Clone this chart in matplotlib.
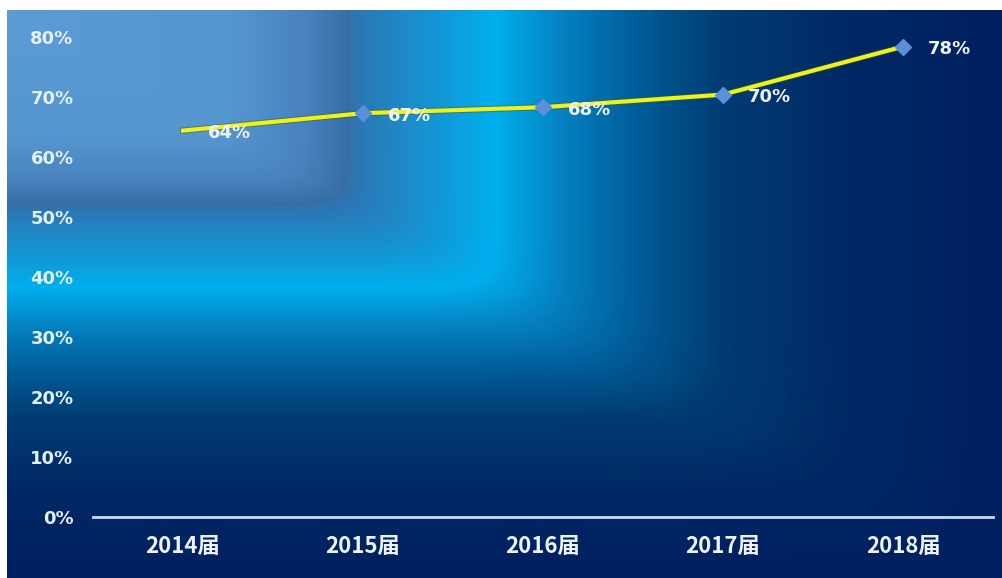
import matplotlib
matplotlib.use("Agg")
import matplotlib.pyplot as plt
import matplotlib.patheffects as pe
from matplotlib.colors import LinearSegmentedColormap
import numpy as np

plt.rcParams["font.family"] = ["DejaVu Sans", "Noto Sans CJK SC"]

# data
categories = ["2014届", "2015届", "2016届", "2017届", "2018届"]
rates = [0.644, 0.673, 0.683, 0.704, 0.784]
yticks = [0, 0.1, 0.2, 0.3, 0.4, 0.5, 0.6, 0.7, 0.8]

W, H = 1003, 578
fig = plt.figure(figsize=(W / 100, H / 100), dpi=100, facecolor="white")

# background: rectangular gradient from the top-left corner
bg_stops = [
    (0.00, (92, 156, 214)),
    (0.22, (86, 150, 208)),
    (0.30, (72, 130, 190)),
    (0.34, (55, 110, 166)),
    (0.355, (42, 120, 182)),
    (0.40, (30, 138, 200)),
    (0.49, (0, 175, 238)),
    (0.56, (5, 128, 192)),
    (0.64, (0, 90, 150)),
    (0.72, (0, 60, 114)),
    (0.85, (0, 40, 100)),
    (1.00, (0, 32, 96)),
]
cmap = LinearSegmentedColormap.from_list(
    "bg", [(p, tuple(c / 255 for c in rgb)) for p, rgb in bg_stops])
bw, bh = 996, 568
gx = np.linspace(0, 1, bw)[None, :]
gy = np.linspace(0, 1, bh)[:, None]
p = 18
t = np.clip((gx ** p + gy ** p) ** (1 / p), 0, 1)
bg = fig.add_axes([7 / W, 0, bw / W, bh / H])
bg.imshow(cmap(t), aspect="auto", interpolation="bilinear")
bg.axis("off")

# main chart
ax = fig.add_axes([93 / W, (H - 517) / H, 900 / W, 480 / H])
ax.patch.set_alpha(0)
x = np.arange(len(categories))

ax.plot(x, rates, color="#eef21c", lw=3, zorder=3,
        path_effects=[pe.Stroke(linewidth=4.5, foreground="#3a5a20", alpha=0.45), pe.Normal()])
ax.plot(x[1:], rates[1:], ls="none", marker="D", ms=8, color="#5b8fd8", zorder=4)

for xi, v in zip(x, rates):
    ax.annotate(f"{v:.0%}", (xi, v), xytext=(18, -2), textcoords="offset points",
                ha="left", va="center", fontsize=13, fontweight="bold", color="#eef3fb", zorder=5)

ax.set_xlim(-0.5, len(categories) - 0.5)
ax.set_ylim(0, 0.8)
ax.set_yticks(yticks)
ax.set_yticklabels([f"{v:.0%}" for v in yticks])
ax.set_xticks(x)
ax.set_xticklabels(categories, family="Noto Sans CJK SC")

for s in ["top", "right", "left"]:
    ax.spines[s].set_visible(False)
ax.spines["bottom"].set_color("#c9dbf2")
ax.spines["bottom"].set_linewidth(2)

ax.tick_params(axis="y", length=0, pad=14, labelsize=13, labelcolor="#e6f0fb")
ax.tick_params(axis="x", length=0, pad=13, labelsize=16, labelcolor="#eef3fb")
for lbl in ax.get_yticklabels() + ax.get_xticklabels():
    lbl.set_fontweight("bold")

plt.savefig("out.png", dpi=100, facecolor="white")
